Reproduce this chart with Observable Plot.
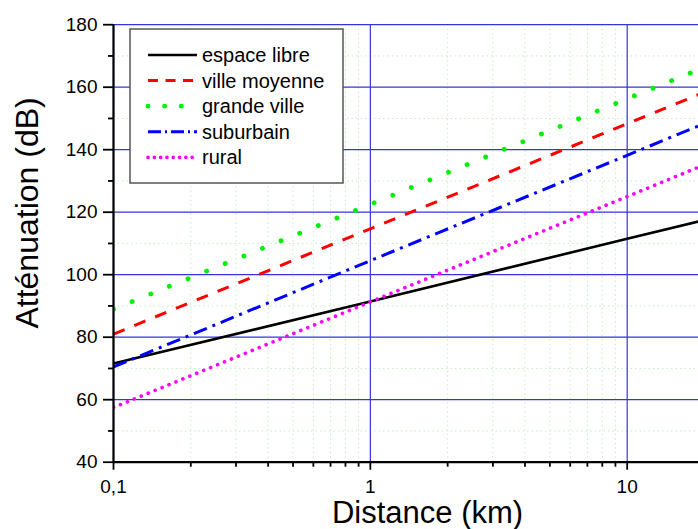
<!DOCTYPE html>
<html><head><meta charset="utf-8">
<script src="https://cdn.jsdelivr.net/npm/d3@7"></script>
<script src="https://cdn.jsdelivr.net/npm/@observablehq/plot@0.6"></script>
<style>
body{margin:0;overflow:hidden;background:#fff;font-family:"Liberation Sans",Arial,sans-serif}
#wrap{position:relative;width:698px;height:529px;overflow:hidden}
#legend{position:absolute;left:129px;top:28px}
</style></head><body><div id="wrap"></div>
<script>
// ---- data ----
const distances = [0.1, 1, 10, 20];
const seriesNames = ["espace libre", "ville moyenne", "grande ville", "suburbain", "rural"];
const espaceLibre  = [71.6, 91.4, 111.5, 117.5];
const villeMoyenne = [81.0, 114.7, 148.3, 158.4];
const grandeVille  = [89.0, 122.5, 156.3, 166.4];
const suburbain    = [70.5, 104.5, 138.2, 148.4];
const rural        = [57.5, 91.3, 125.0, 135.2];
const xMajorTicks = [0.1, 1, 10];
const xMinorTicks = [0.2, 0.3, 0.4, 0.5, 0.6, 0.7, 0.8, 0.9, 2, 3, 4, 5, 6, 7, 8, 9];
const yMajorTicks = [40, 60, 80, 100, 120, 140, 160, 180];
const yMinorTicks = [50, 70, 90, 110, 130, 150, 170];
const xTitle = "Distance (km)";
const yTitle = "Atténuation (dB)";

// ---- styles ----
const values = [espaceLibre, villeMoyenne, grandeVille, suburbain, rural];
const lineStyles = [
  {stroke: "#000000", strokeWidth: 2.6, strokeDasharray: null, strokeLinecap: "butt"},
  {stroke: "#ff0000", strokeWidth: 3, strokeDasharray: "12 10.5", strokeLinecap: "butt"},
  {stroke: "#00f000", strokeWidth: 4.8, strokeDasharray: "0.1 20", strokeLinecap: "round"},
  {stroke: "#0000ff", strokeWidth: 3, strokeDasharray: "14 6 3 6", strokeLinecap: "butt"},
  {stroke: "#ff00ff", strokeWidth: 3.6, strokeDasharray: "0.1 7.4", strokeLinecap: "round"}
];
const legendDash = [null, "10 7.5", "0.1 16.5", "13 4 2 4", "0.1 6.2"];

const rows = seriesNames.flatMap((name, i) => distances.map((d, j) => ({name, d, v: values[i][j]})));
const fmt = d => String(d).replace(".", ",");
const FONT = "'Liberation Sans', Arial, Helvetica, sans-serif";

const lineMarks = seriesNames.map((name, i) => Plot.line(rows.filter(r => r.name === name), {
  x: "d", y: "v", clip: true,
  stroke: lineStyles[i].stroke, strokeWidth: lineStyles[i].strokeWidth,
  strokeDasharray: lineStyles[i].strokeDasharray, strokeLinecap: lineStyles[i].strokeLinecap
}));

const chart = Plot.plot({
  width: 698, height: 529,
  marginLeft: 113, marginRight: 0, marginTop: 24.2, marginBottom: 67.3,
  style: {fontFamily: FONT, background: "#fff", color: "#000"},
  x: {type: "log", domain: [0.1, 20], range: [113, 704], axis: null},
  y: {domain: [40, 180], range: [461.7, 24.2], axis: null},
  marks: [
    Plot.gridX(xMinorTicks, {stroke: "#c6ebc6", strokeOpacity: 1, strokeWidth: 1, strokeDasharray: "1.5 3"}),
    Plot.gridY(yMinorTicks, {stroke: "#c6ebc6", strokeOpacity: 1, strokeWidth: 1, strokeDasharray: "1.5 3"}),
    Plot.gridX(xMajorTicks, {stroke: "#3535dd", strokeOpacity: 1, strokeWidth: 1.2}),
    Plot.gridY(yMajorTicks, {stroke: "#3535dd", strokeOpacity: 1, strokeWidth: 1.2}),
    ...lineMarks,
    Plot.ruleX([0.1], {stroke: "#000", strokeWidth: 2.2}),
    Plot.ruleY([40], {stroke: "#000", strokeWidth: 2.2}),
    Plot.axisX(xMajorTicks, {tickSize: 8, tickPadding: 9, tickFormat: fmt, fontSize: 19, label: null, strokeWidth: 1.8}),
    Plot.axisX(xMinorTicks, {tickSize: 5, text: null, label: null, strokeWidth: 1.8}),
    Plot.axisY(yMajorTicks, {tickSize: 10, tickPadding: 6, fontSize: 19, label: null, strokeWidth: 1.8}),
    Plot.axisY(yMinorTicks, {tickSize: 5, text: null, label: null, strokeWidth: 1.8}),
    Plot.text([yTitle], {text: d => d, frameAnchor: "left", rotate: -90, lineAnchor: "bottom", textAnchor: "middle", dx: -76, dy: -30.5, fontSize: 32, fill: "#000"}),
    Plot.text([xTitle], {text: d => d, frameAnchor: "bottom", lineAnchor: "bottom", textAnchor: "middle", dx: 21.5, dy: 60.8, fontSize: 31, fill: "#000"})
  ]
});
const wrap = document.getElementById("wrap");
wrap.appendChild(chart);

// ---- legend (HTML overlay with small SVG) ----
const lw = 214, lh = 155;
const leg = d3.select(wrap).append("svg").attr("id", "legend").attr("width", lw + 2).attr("height", lh + 2);
leg.append("rect").attr("x", 1).attr("y", 1).attr("width", lw - 1).attr("height", lh - 1)
  .attr("fill", "#fff").attr("stroke", "#555").attr("stroke-width", 1.5);
seriesNames.forEach((name, i) => {
  const cy = 27 + i * 25.6;
  leg.append("line").attr("x1", 19).attr("x2", 68).attr("y1", cy).attr("y2", cy)
    .attr("stroke", lineStyles[i].stroke).attr("stroke-width", lineStyles[i].strokeWidth)
    .attr("stroke-dasharray", legendDash[i]).attr("stroke-linecap", lineStyles[i].strokeLinecap);
  leg.append("text").attr("x", 73).attr("y", cy).attr("dy", "0.35em")
    .attr("font-family", FONT).attr("font-size", 20).attr("fill", "#000").text(name);
});
</script></body></html>
